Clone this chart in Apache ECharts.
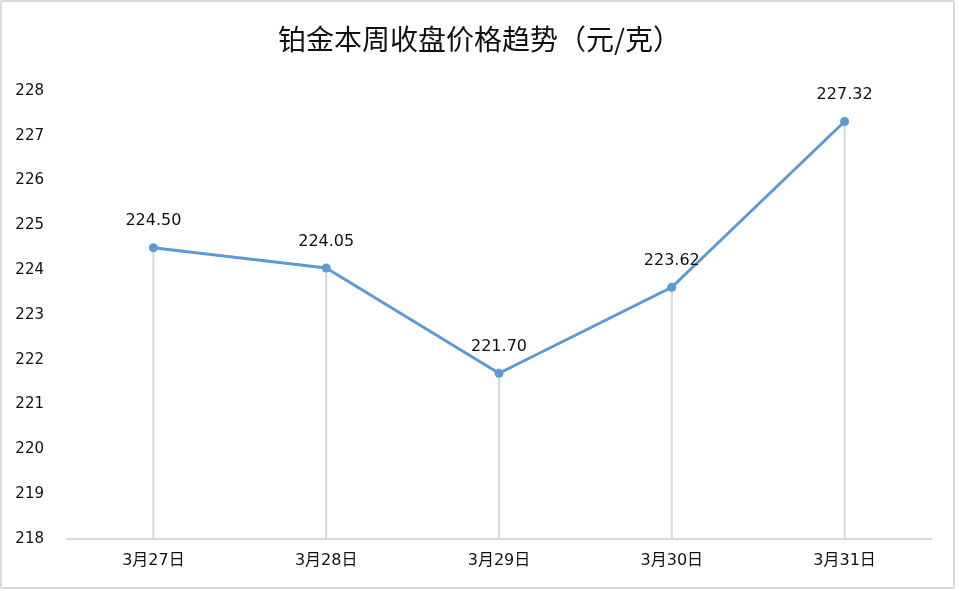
<!DOCTYPE html>
<html><head><meta charset="utf-8">
<script src="https://cdn.jsdelivr.net/npm/echarts@6/dist/echarts.min.js"></script>
<style>
html,body{margin:0;padding:0;background:#fff;}
#wrap{position:relative;width:959px;height:591px;}
#frame{position:absolute;left:0;top:0;width:951px;height:585px;border:2px solid #d9d9d9;border-radius:2px;pointer-events:none;}
#c{position:absolute;left:0;top:0;width:959px;height:591px;}
</style></head>
<body><div id="wrap"><div id="c"></div><div id="frame"></div></div>
<script>
const titleText = '铂金本周收盘价格趋势（元/克）';
const categories = ['3月27日','3月28日','3月29日','3月30日','3月31日'];
const prices = [224.50, 224.05, 221.70, 223.62, 227.32];
const yMin = 218, yMax = 228, yStep = 1;

const chart = echarts.init(document.getElementById('c'));
const cjk = '"Noto Sans CJK SC", "Noto Sans", sans-serif';
const num = '"DejaVu Sans", "Noto Sans CJK SC", sans-serif';
chart.setOption({
  animation: false,
  title: {text: titleText, left: 'center', top: 20,
    textStyle: {fontFamily: cjk, fontSize: 28, fontWeight: 'normal', color: '#111'}},
  grid: {left: 67, right: 28, top: 91, bottom: 52, containLabel: false},
  xAxis: {type: 'category', data: categories, boundaryGap: true,
    axisLine: {lineStyle: {color: '#d9d9d9', width: 2}},
    axisTick: {show: false},
    axisLabel: {color: '#111', fontSize: 16, fontFamily: num, margin: 14}},
  yAxis: {type: 'value', min: yMin, max: yMax, interval: yStep,
    axisLine: {show: false}, axisTick: {show: false}, splitLine: {show: false},
    axisLabel: {color: '#111', fontSize: 15, fontFamily: num, margin: 23}},
  series: [
    {type: 'bar', data: prices, barWidth: 2, itemStyle: {color: '#d9d9d9'}, z: 1, silent: true},
    {type: 'line', data: prices, symbol: 'circle', symbolSize: 9, z: 3,
      lineStyle: {color: '#5b9bd5', width: 3},
      itemStyle: {color: '#5b9bd5'},
      label: {show: true, position: 'top', distance: 14, color: '#111', fontSize: 16, fontFamily: num,
        formatter: p => p.value.toFixed(2)}}
  ]
});
</script></body></html>
